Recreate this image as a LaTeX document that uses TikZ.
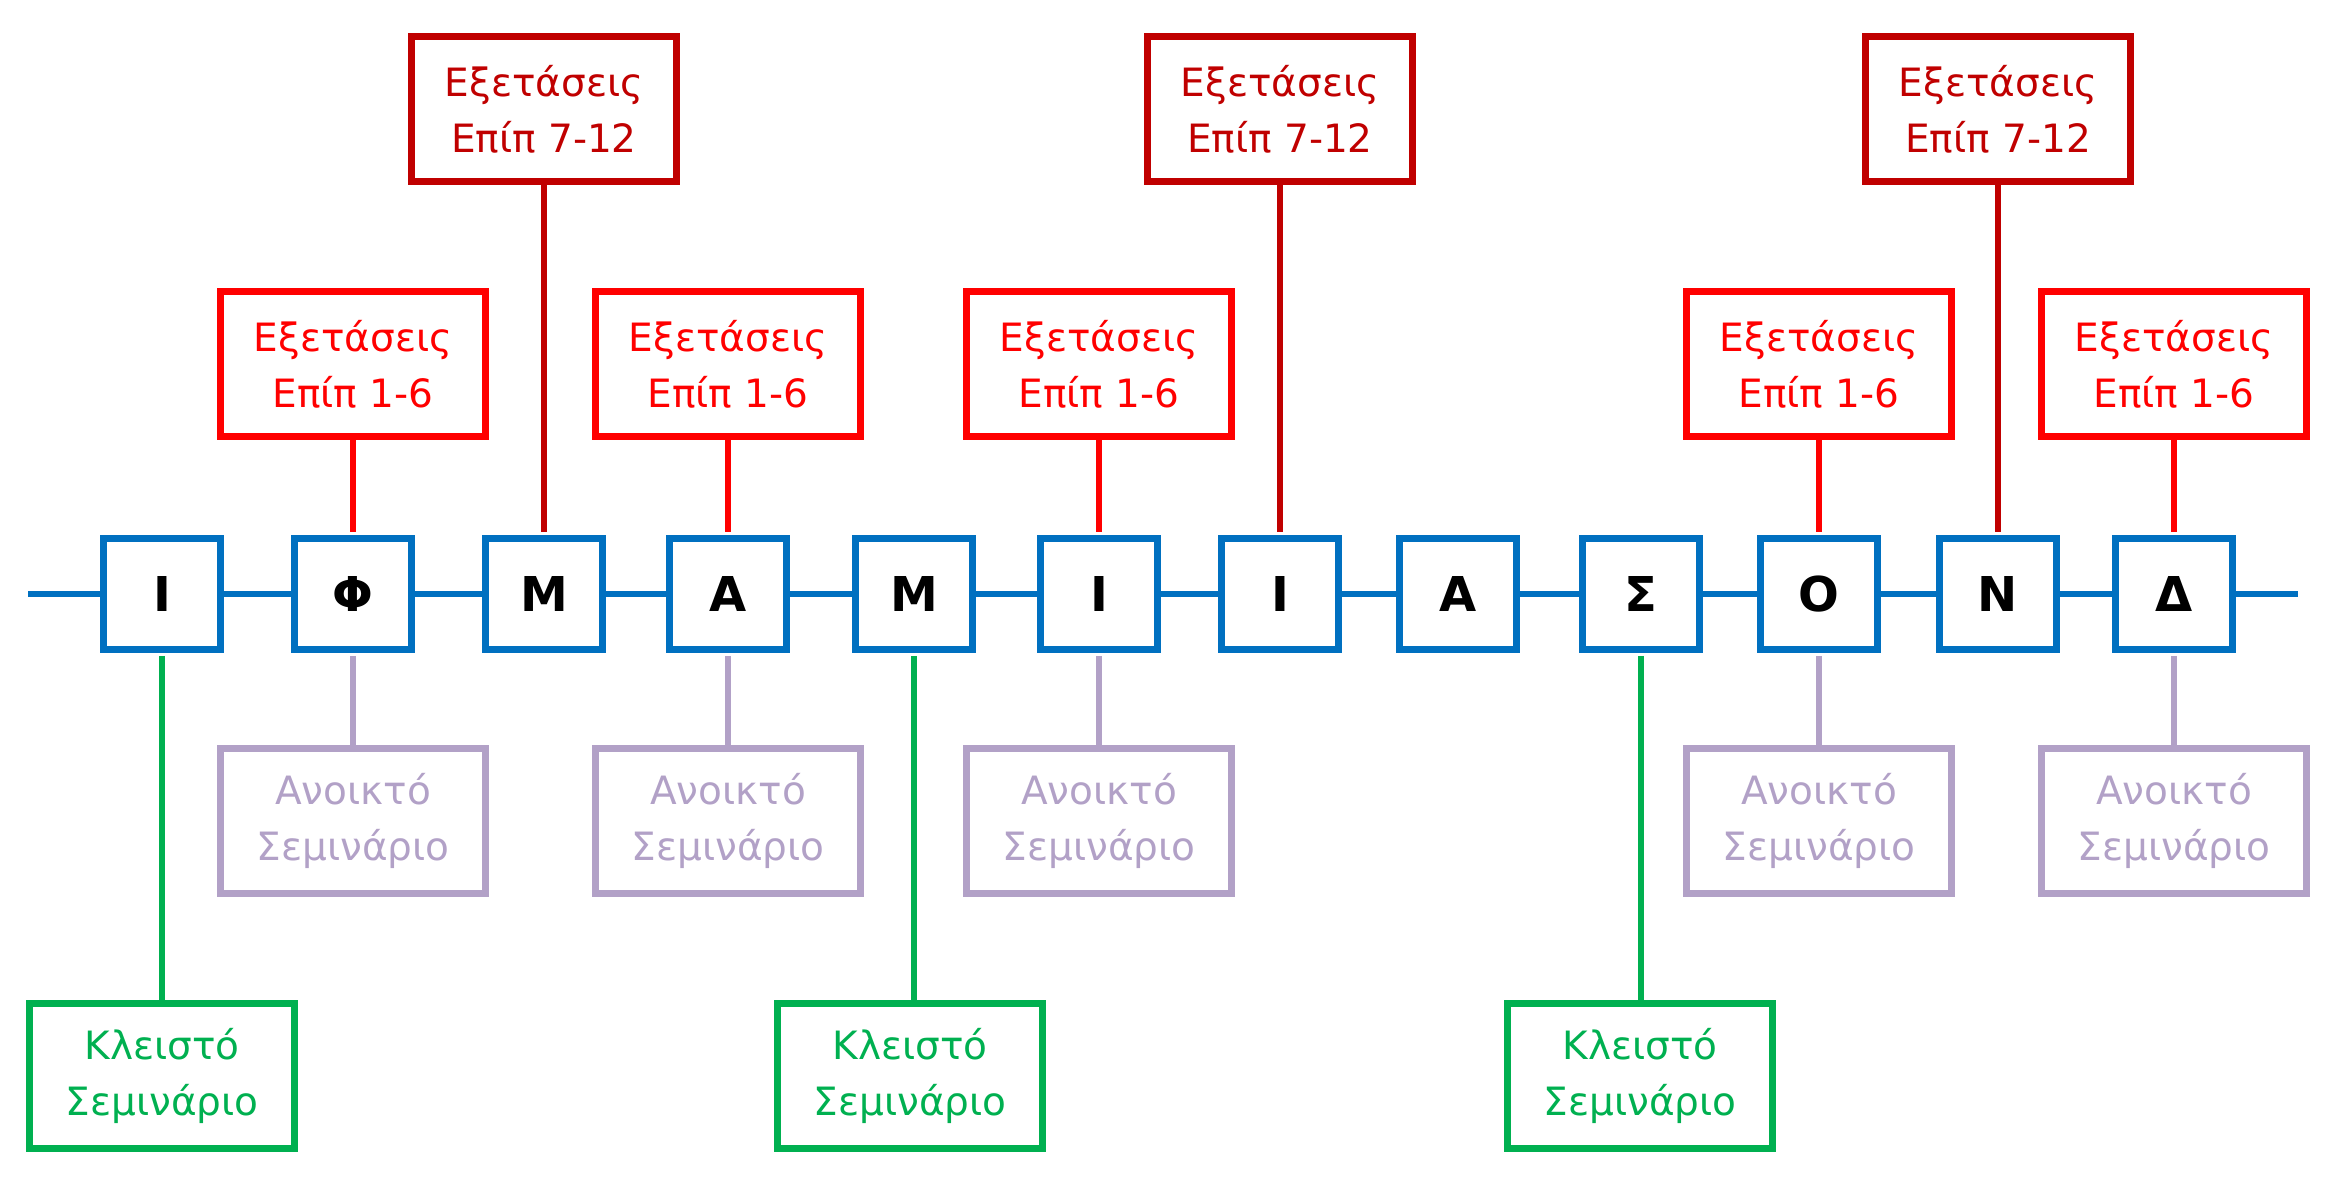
\documentclass[tikz,border=0pt]{standalone}
\usepackage{fontspec}
\setmainfont{DejaVu Sans}
\definecolor{cblue}{HTML}{0070C0}
\definecolor{cred}{HTML}{FF0000}
\definecolor{cdred}{HTML}{C00000}
\definecolor{clav}{HTML}{B2A1C7}
\definecolor{cgreen}{HTML}{00B050}
\begin{document}
\begin{tikzpicture}[x=1pt,y=-1pt,
  letterbox/.style={draw=cblue, line width=6.3pt, fill=white, minimum width=117pt, minimum height=111pt, inner sep=0pt, font=\bfseries\fontsize{48}{48}\selectfont},
  labelbox/.style={line width=6.3pt, minimum width=265pt, minimum height=145pt, inner sep=0pt, align=center, font=\fontsize{39}{56}\selectfont},
  examA/.style={labelbox, draw=cred, text=cred},
  examB/.style={labelbox, draw=cdred, text=cdred},
  openbox/.style={labelbox, draw=clav, text=clav},
  closedbox/.style={labelbox, draw=cgreen, text=cgreen},
  mainline/.style={draw=cblue, line width=6.5pt},
  upline/.style={line width=6.5pt, shorten >=3.15pt},
  downline/.style={line width=6.5pt, shorten <=3.15pt}
]
\useasboundingbox (0,0) rectangle (2344,1188);
% letter boxes
\node[letterbox] (b1) at (162,594) {Ι};
\node[letterbox] (b2) at (353,594) {Φ};
\node[letterbox] (b3) at (544,594) {Μ};
\node[letterbox] (b4) at (728,594) {Α};
\node[letterbox] (b5) at (914,594) {Μ};
\node[letterbox] (b6) at (1099,594) {Ι};
\node[letterbox] (b7) at (1280,594) {Ι};
\node[letterbox] (b8) at (1458,594) {Α};
\node[letterbox] (b9) at (1641,594) {Σ};
\node[letterbox] (b10) at (1819,594) {Ο};
\node[letterbox] (b11) at (1998,594) {Ν};
\node[letterbox] (b12) at (2174,594) {Δ};
\coordinate (L) at (28,594);
\coordinate (R) at (2298,594);
\draw[mainline] (L) -- (b1) -- (b2) -- (b3) -- (b4) -- (b5) -- (b6) -- (b7) -- (b8) -- (b9) -- (b10) -- (b11) -- (b12) -- (R);
% exams 1-6
\node[examA] (e1) at (353,364) {Εξετάσεις\\Επίπ 1-6};
\node[examA] (e2) at (728,364) {Εξετάσεις\\Επίπ 1-6};
\node[examA] (e3) at (1099,364) {Εξετάσεις\\Επίπ 1-6};
\node[examA] (e4) at (1819,364) {Εξετάσεις\\Επίπ 1-6};
\node[examA] (e5) at (2174,364) {Εξετάσεις\\Επίπ 1-6};
% exams 7-12
\node[examB] (f1) at (544,109) {Εξετάσεις\\Επίπ 7-12};
\node[examB] (f2) at (1280,109) {Εξετάσεις\\Επίπ 7-12};
\node[examB] (f3) at (1998,109) {Εξετάσεις\\Επίπ 7-12};
% open seminars
\node[openbox] (o1) at (353,821) {Ανοικτό\\Σεμινάριο};
\node[openbox] (o2) at (728,821) {Ανοικτό\\Σεμινάριο};
\node[openbox] (o3) at (1099,821) {Ανοικτό\\Σεμινάριο};
\node[openbox] (o4) at (1819,821) {Ανοικτό\\Σεμινάριο};
\node[openbox] (o5) at (2174,821) {Ανοικτό\\Σεμινάριο};
% closed seminars
\node[closedbox] (c1) at (162,1076) {Κλειστό\\Σεμινάριο};
\node[closedbox] (c2) at (910,1076) {Κλειστό\\Σεμινάριο};
\node[closedbox] (c3) at (1640,1076) {Κλειστό\\Σεμινάριο};
% connectors
\draw[upline, cred] (e1.south) -- (b2.north);
\draw[upline, cred] (e2.south) -- (b4.north);
\draw[upline, cred] (e3.south) -- (b6.north);
\draw[upline, cred] (e4.south) -- (b10.north);
\draw[upline, cred] (e5.south) -- (b12.north);
\draw[upline, cdred] (f1.south) -- (b3.north);
\draw[upline, cdred] (f2.south) -- (b7.north);
\draw[upline, cdred] (f3.south) -- (b11.north);
\draw[downline, clav] (b2.south) -- (o1.north);
\draw[downline, clav] (b4.south) -- (o2.north);
\draw[downline, clav] (b6.south) -- (o3.north);
\draw[downline, clav] (b10.south) -- (o4.north);
\draw[downline, clav] (b12.south) -- (o5.north);
\draw[downline, cgreen] (b1.south) -- (b1.south |- c1.north);
\draw[downline, cgreen] (b5.south) -- (b5.south |- c2.north);
\draw[downline, cgreen] (b9.south) -- (b9.south |- c3.north);
\end{tikzpicture}
\end{document}
